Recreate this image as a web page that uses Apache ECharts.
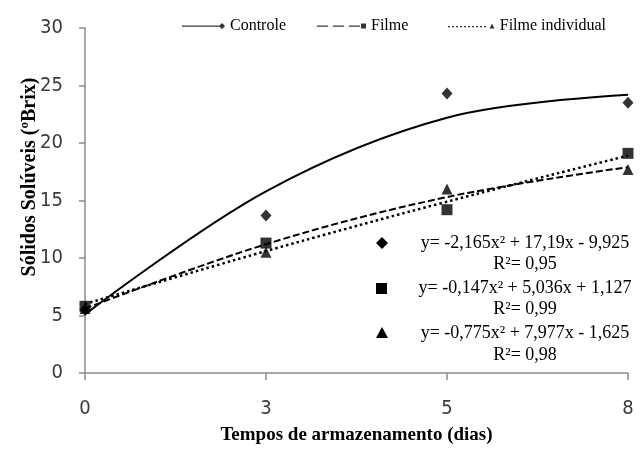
<!DOCTYPE html>
<html>
<head>
<meta charset="utf-8">
<script src="https://cdn.jsdelivr.net/npm/echarts@6/dist/echarts.min.js"></script>
<style>
  html, body { margin: 0; padding: 0; background: #fff; }
  #chart { width: 644px; height: 450px; }
</style>
</head>
<body>
<div id="chart"></div>
<script>
// dias de armazenamento
var dias = ['0', '3', '5', '8'];

// valores observados (ºBrix)
var controle = [5.5, 13.7, 24.3, 23.5];
var filme = [5.8, 11.3, 14.2, 19.1];
var filmeIndividual = [5.6, 10.5, 16.0, 17.7];

// curvas de tendência
var tendControle = [5.1, 15.8, 22.2, 24.2];
var tendTracejada = [5.6, 11.2, 15.3, 17.9];
var tendPontilhada = [6.0, 10.6, 14.9, 18.9];

var equacoes = [
    'y= -2,165x² + 17,19x - 9,925',
    'y= -0,147x² + 5,036x + 1,127',
    'y= -0,775x² + 7,977x - 1,625'
];
var r2 = ['R²= 0,95', 'R²= 0,99', 'R²= 0,98'];

var serif = '"Liberation Serif", "DejaVu Serif", serif';
var sansNarrow = '"Liberation Sans Narrow", "DejaVu Sans Condensed", sans-serif';

var myChart = echarts.init(document.getElementById('chart'));

function legenda(left, nome, icone, w) {
    return {
        left: left,
        top: 18,
        padding: 0,
        itemWidth: w,
        itemHeight: 7,
        itemGap: 5,
        textStyle: { fontFamily: serif, fontSize: 16, color: '#000' },
        data: [{ name: nome, icon: icone }]
    };
}

var option = {
    animation: false,
    color: ['#000'],
    legend: [
        legenda(182, 'Controle', 'path://M0 3h38v1.3h-38z M37.5 3.6L40.5 0.5L43.5 3.6L40.5 6.7z M0 0h0.01v7h-0.01z', 43),
        legenda(317, 'Filme', 'path://M0 3h11v1.3h-11z M16 3h11v1.3h-11z M32 3h11v1.3h-11z M44 1h5v5h-5z M0 0h0.01v7h-0.01z', 49),
        legenda(448, 'Filme individual', 'path://M0 3.5h2v1.2h-2z M4 3.5h2v1.2h-2z M8 3.5h2v1.2h-2z M12 3.5h2v1.2h-2z M16 3.5h2v1.2h-2z M20 3.5h2v1.2h-2z M24 3.5h2v1.2h-2z M28 3.5h2v1.2h-2z M32 3.5h2v1.2h-2z M36 3.5h2v1.2h-2z M44 1L46.5 6L41.5 6z M0 0h0.01v7h-0.01z', 47)
    ],
    grid: {
        left: 85,
        right: 16,
        top: 28,
        bottom: 77,
        containLabel: false
    },
    xAxis: {
        type: 'category',
        boundaryGap: false,
        data: dias,
        name: 'Tempos de armazenamento (dias)',
        nameLocation: 'middle',
        nameGap: 53,
        nameTextStyle: { fontFamily: serif, fontWeight: 'bold', fontSize: 19, color: '#000' },
        axisLine: { lineStyle: { color: '#8c8c8c', width: 1.5 } },
        axisTick: { show: true, length: 7, lineStyle: { color: '#8c8c8c', width: 1.5 } },
        axisLabel: { margin: 26, fontFamily: sansNarrow, fontSize: 20, color: '#3a3a3a' },
        splitLine: { show: false }
    },
    yAxis: {
        type: 'value',
        min: 0,
        max: 30,
        interval: 5,
        axisLine: { show: true, lineStyle: { color: '#8c8c8c', width: 1.5 } },
        axisTick: { show: true, length: 6, lineStyle: { color: '#8c8c8c', width: 1.5 } },
        axisLabel: { margin: 22, fontFamily: sansNarrow, fontSize: 20, color: '#3a3a3a' },
        splitLine: { show: false }
    },
    graphic: [
        {
            type: 'text', x: 30, y: 177, rotation: Math.PI / 2,
            style: {
                text: 'Sólidos Solúveis (ºBrix)', align: 'center', verticalAlign: 'middle',
                font: 'bold 20px ' + serif, fill: '#000'
            }
        },
        { type: 'polygon', shape: { points: [[382, 237], [388, 243], [382, 249], [376, 243]] }, style: { fill: '#000' } },
        { type: 'rect', shape: { x: 376, y: 283, width: 11, height: 11 }, style: { fill: '#000' } },
        { type: 'polygon', shape: { points: [[382, 327], [388, 338], [376, 338]] }, style: { fill: '#000' } },
        { type: 'text', x: 525, y: 243, style: { text: equacoes[0], align: 'center', verticalAlign: 'middle', font: '18px ' + serif, fill: '#000' } },
        { type: 'text', x: 525, y: 264, style: { text: r2[0], align: 'center', verticalAlign: 'middle', font: '18px ' + serif, fill: '#000' } },
        { type: 'text', x: 525, y: 288, style: { text: equacoes[1], align: 'center', verticalAlign: 'middle', font: '18px ' + serif, fill: '#000' } },
        { type: 'text', x: 525, y: 309, style: { text: r2[1], align: 'center', verticalAlign: 'middle', font: '18px ' + serif, fill: '#000' } },
        { type: 'text', x: 525, y: 333, style: { text: equacoes[2], align: 'center', verticalAlign: 'middle', font: '18px ' + serif, fill: '#000' } },
        { type: 'text', x: 525, y: 355, style: { text: r2[2], align: 'center', verticalAlign: 'middle', font: '18px ' + serif, fill: '#000' } }
    ],
    series: [
        {
            name: 'Controle tendência',
            type: 'line',
            smooth: 0.35,
            symbol: 'none',
            lineStyle: { color: '#000', width: 2 },
            data: tendControle
        },
        {
            name: 'Tracejada',
            type: 'line',
            smooth: 0.35,
            symbol: 'none',
            lineStyle: { color: '#000', width: 2, type: [7, 3] },
            data: tendTracejada
        },
        {
            name: 'Pontilhada',
            type: 'line',
            smooth: 0.35,
            symbol: 'none',
            lineStyle: { color: '#000', width: 2.5, type: [2.5, 3] },
            data: tendPontilhada
        },
        {
            name: 'Controle',
            type: 'scatter',
            symbol: 'diamond',
            symbolSize: [11, 12],
            itemStyle: { color: '#000' },
            data: controle
        },
        {
            name: 'Filme',
            type: 'scatter',
            symbol: 'rect',
            symbolSize: 11,
            itemStyle: { color: '#000' },
            data: filme
        },
        {
            name: 'Filme individual',
            type: 'scatter',
            symbol: 'triangle',
            symbolSize: 11,
            itemStyle: { color: '#000' },
            data: filmeIndividual
        }
    ]
};

myChart.setOption(option);
</script>
</body>
</html>
